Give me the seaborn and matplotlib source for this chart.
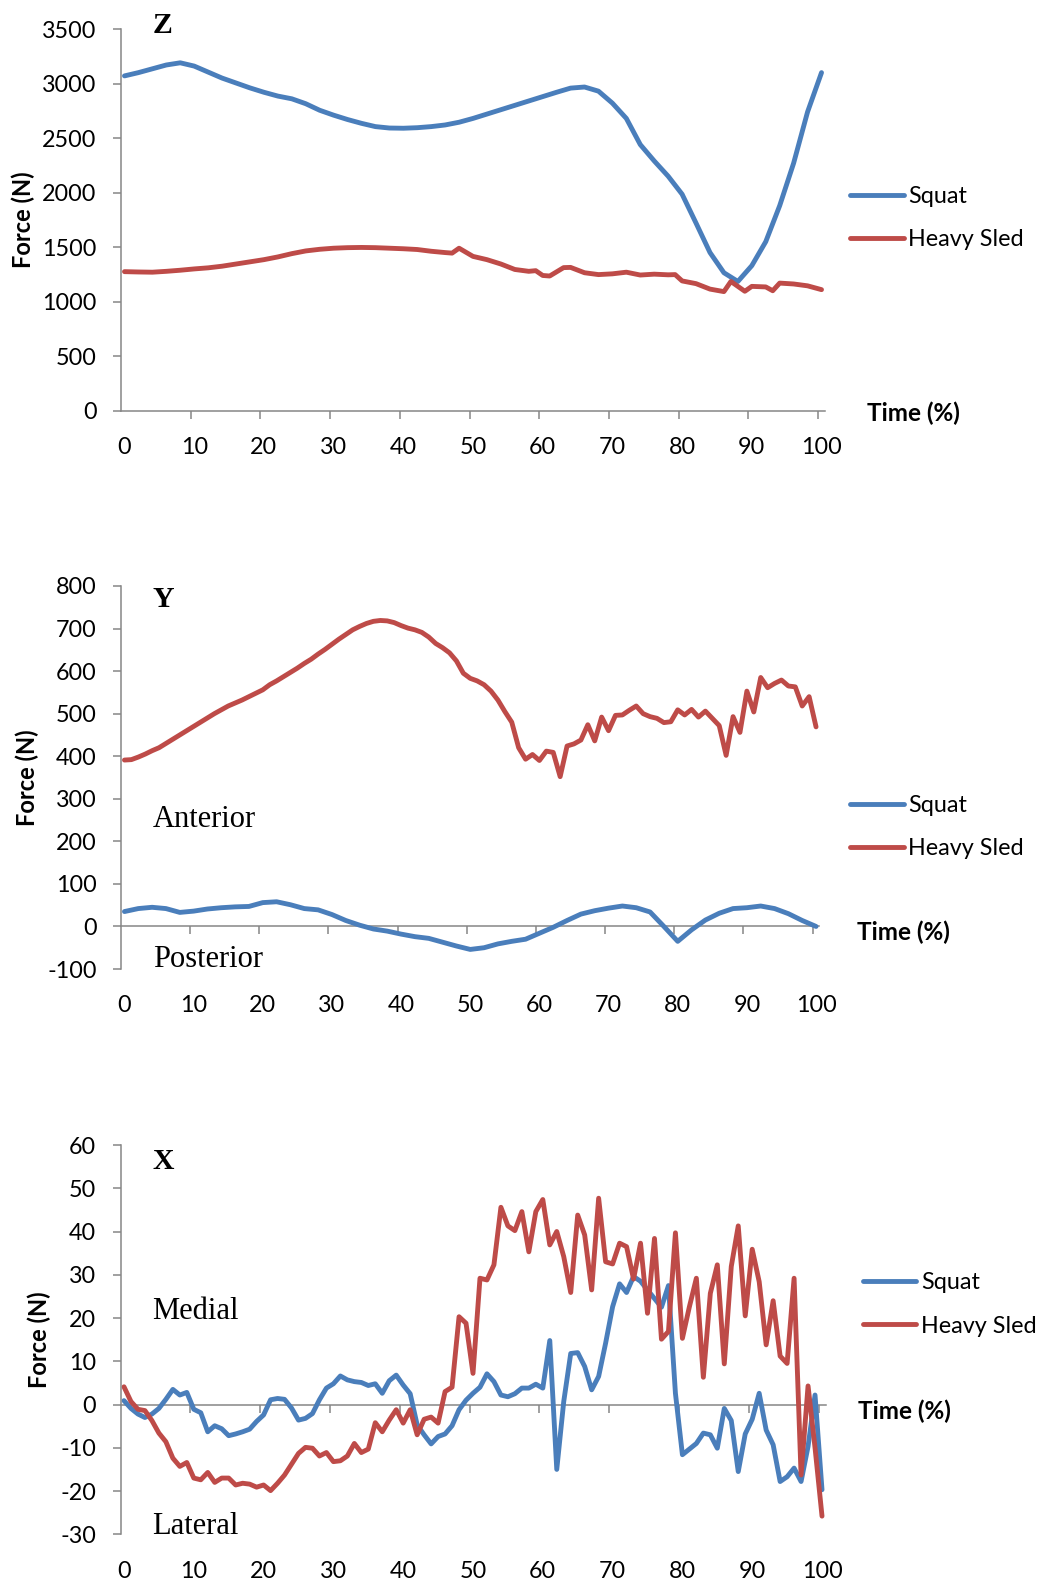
import matplotlib
matplotlib.use("Agg")
import matplotlib.pyplot as plt
from matplotlib.lines import Line2D
import pandas as pd
import seaborn as sns

# ---------------- data ----------------
exercises = ["Squat", "Heavy Sled"]

# Z (vertical)
time_z_squat = list(range(0, 101, 2))
force_z_squat = [3070, 3100, 3135, 3170, 3190, 3160, 3105, 3050, 3005, 2960,
                 2920, 2885, 2860, 2815, 2755, 2710, 2670, 2635, 2605, 2592,
                 2590, 2595, 2605, 2620, 2645, 2680, 2720, 2760, 2800, 2840,
                 2880, 2920, 2958, 2968, 2930, 2820, 2680, 2440, 2290, 2150,
                 1985, 1720, 1450, 1265, 1185, 1330, 1550, 1880, 2270, 2740,
                 3100]
time_z_sled = [0, 2, 4, 6, 8, 10, 12, 14, 16, 18, 20, 22, 24, 26, 28, 30, 32, 34,
               36, 38, 40, 42, 44, 46, 47, 48, 50, 52, 54, 56, 58, 59, 60, 61, 63,
               64, 66, 68, 70, 72, 74, 76, 78, 79, 80, 82, 84, 86, 87, 89, 90, 92,
               93, 94, 96, 98, 100]
force_z_sled = [1275, 1272, 1270, 1278, 1288, 1300, 1310, 1325, 1345, 1365,
                1385, 1410, 1440, 1465, 1480, 1490, 1495, 1497, 1495, 1490,
                1485, 1478, 1462, 1450, 1445, 1490, 1415, 1385, 1345, 1295,
                1278, 1284, 1240, 1235, 1312, 1314, 1265, 1248, 1255, 1270,
                1244, 1252, 1246, 1248, 1190, 1165, 1115, 1092, 1185, 1095,
                1140, 1135, 1100, 1170, 1162, 1145, 1110]

# Y (anterior / posterior)
time_y_squat = list(range(0, 101, 2))
force_y_squat = [35, 42, 45, 42, 33, 36, 41, 44, 46, 47,
                 56, 58, 51, 42, 39, 28, 14, 3, -6, -11,
                 -18, -24, -28, -37, -46, -54, -50, -41, -35, -30,
                 -16, -2, 14, 29, 37, 43, 48, 44, 34, 0,
                 -35, -8, 15, 31, 42, 44, 48, 42, 30, 14,
                 0]
time_y_sled = list(range(0, 101))
force_y_sled = [391, 392, 398, 405, 413, 420, 430, 440, 450, 460,
                470, 480, 490, 500, 509, 518, 525, 532, 540, 548,
                556, 568, 577, 587, 597, 607, 618, 628, 640, 651,
                663, 675, 686, 697, 705, 712, 717, 719, 718, 714,
                707, 701, 697, 691, 680,
                665, 655, 643, 624, 595, 583, 577, 568, 553, 532,
                505, 480, 420, 393, 404, 390, 412, 409, 352, 424,
                429, 438, 474, 436, 492, 460, 496, 497, 508, 518,
                500, 493, 489, 479, 481, 509, 497, 510, 492, 506,
                489, 472, 402, 493, 456, 553, 504, 585, 561, 571,
                579, 565, 563, 518, 540, 469]

# X (medial / lateral)
time_x = list(range(0, 101))
force_x_squat = [0.9, -0.9, -2.2, -3.0, -2.2, -0.9, 1.2, 3.5, 2.2, 2.8,
                 -1.1, -1.9, -6.3, -4.9, -5.6, -7.2, -6.8, -6.3, -5.7, -3.9,
                 -2.4, 1.1, 1.4, 1.2, -0.8, -3.6, -3.2, -2.1, 1.1, 3.8,
                 4.8, 6.6, 5.7, 5.3, 5.1, 4.4, 4.8, 2.6, 5.5, 6.8,
                 4.5, 2.5, -4.7, -7.0, -9.1, -7.4, -6.8, -4.9, -1.2, 1.0,
                 2.6, 4.0, 7.1, 5.3, 2.2, 1.8, 2.5, 3.8, 3.8, 4.7,
                 3.8, 14.8, -15.0, 0.7, 11.8, 12.0, 8.8, 3.4, 6.5, 14.2,
                 22.6, 27.9, 25.9, 29.6, 28.5, 26.5, 24.5, 22.5, 27.5, 2.6,
                 -11.6, -10.3, -9.0, -6.6, -7.0, -10.1, -0.9, -3.7, -15.5, -6.8,
                 -3.4, 2.6, -5.9, -9.3, -17.8, -16.7, -14.7, -17.8, -9.7, 2.2,
                 -19.7]
force_x_sled = [4.1, 0.7, -1.1, -1.4, -3.7, -6.6, -8.6, -12.4, -14.3, -13.4,
                -17.0, -17.4, -15.7, -18.0, -17.0, -17.0, -18.6, -18.2, -18.4, -19.1,
                -18.6, -19.9, -18.2, -16.3, -13.8, -11.3, -9.9, -10.1, -11.9, -11.1,
                -13.2, -13.0, -11.9, -9.0, -11.1, -10.3, -4.2, -6.3, -3.6, -1.2,
                -4.3, -1.2, -7.0, -3.4, -2.9, -4.3, 3.0, 4.0, 20.3, 18.8,
                7.2, 29.2, 28.8, 32.3, 45.6, 41.3, 40.2, 44.6, 35.3, 44.6,
                47.4, 36.9, 40.0, 34.2, 25.9, 43.8, 39.2, 26.5, 47.7, 33.0,
                32.5, 37.3, 36.5, 29.0, 37.3, 21.1, 38.4, 15.1, 16.9, 39.7,
                15.3, 22.6, 29.2, 6.3, 25.7, 32.3, 9.4, 31.9, 41.3, 20.5,
                35.9, 28.4, 13.8, 24.0, 11.2, 9.5, 29.2, -16.3, 4.3, -10.0,
                -25.8]

x_tick_values = list(range(0, 101, 10))
z_ticks = [0, 500, 1000, 1500, 2000, 2500, 3000, 3500]
y_ticks = [-100, 0, 100, 200, 300, 400, 500, 600, 700, 800]
x_ticks_force = [-30, -20, -10, 0, 10, 20, 30, 40, 50, 60]


def long_df(t_sq, f_sq, t_sl, f_sl):
    a = pd.DataFrame({"Time": t_sq, "Force": f_sq, "Exercise": "Squat"})
    b = pd.DataFrame({"Time": t_sl, "Force": f_sl, "Exercise": "Heavy Sled"})
    return pd.concat([a, b], ignore_index=True)


df_z = long_df(time_z_squat, force_z_squat, time_z_sled, force_z_sled)
df_y = long_df(time_y_squat, force_y_squat, time_y_sled, force_y_sled)
df_x = long_df(time_x, force_x_squat, time_x, force_x_sled)

# ---------------- style ----------------
sns.set_theme(style="white")
plt.rcParams["font.family"] = ["Lato", "DejaVu Sans"]
plt.rcParams["text.color"] = "black"
plt.rcParams["xtick.color"] = "black"
plt.rcParams["ytick.color"] = "black"

BLUE = "#4A7EBB"
RED = "#BE4B48"
GRAY = "#868686"
palette = {"Squat": BLUE, "Heavy Sled": RED}
LW = 3.5
TICK_FS = 16.8

W, H = 1041, 1595
fig = plt.figure(figsize=(W / 100, H / 100), dpi=100)
fig.patch.set_facecolor("white")


def add_axes(left, right, top, bottom):
    return fig.add_axes([left / W, 1 - bottom / H, (right - left) / W, (bottom - top) / H])


def panel(ax, df, ylim, yticks, letter, letter_y, legend_xy, time_xy, force_xy, notes):
    sns.lineplot(data=df, x="Time", y="Force", hue="Exercise", hue_order=exercises,
                 palette=palette, linewidth=LW, errorbar=None, legend=False, ax=ax)
    for ln in ax.lines:
        ln.set_solid_capstyle("round")
        ln.set_solid_joinstyle("round")
    ax.set_xlim(-0.5, 100.5)
    ax.set_ylim(*ylim)
    ax.set_xlabel("")
    ax.set_ylabel("")
    ax.set_yticks(yticks)
    ax.set_yticklabels([str(v) for v in yticks])
    ax.set_xticks(x_tick_values)
    ax.set_xticklabels([str(v) for v in x_tick_values])
    ax.tick_params(axis="x", bottom=False, length=0, pad=19, labelsize=TICK_FS)
    ax.tick_params(axis="y", left=True, direction="out", length=6, width=1.1,
                   color=GRAY, pad=11.5, labelsize=TICK_FS)
    for s in ["top", "right", "bottom"]:
        ax.spines[s].set_visible(False)
    ax.spines["left"].set_color(GRAY)
    ax.spines["left"].set_linewidth(1.1)
    ax.set_facecolor("none")

    zero_frac = (0 - ylim[0]) / (ylim[1] - ylim[0])
    sec = ax.secondary_xaxis(zero_frac)
    sec_ticks = [-0.5 + 10 * k for k in range(1, 11)]
    sec.set_xticks(sec_ticks, labels=[""] * len(sec_ticks))
    sec.tick_params(axis="x", bottom=True, top=False, direction="out", length=5.5,
                    width=1.1, color=GRAY, labelbottom=False, labeltop=False)
    for s in sec.spines.values():
        s.set_color(GRAY)
        s.set_linewidth(1.1)

    ax.text(4.1, letter_y, letter, fontfamily="Liberation Serif", fontweight="bold",
            fontsize=21.5, ha="left", va="baseline")
    for txt, yv in notes:
        ax.text(4.1, yv, txt, fontfamily="Liberation Serif", fontsize=22,
                ha="left", va="baseline")

    handles = [Line2D([0], [0], color=BLUE, lw=LW, solid_capstyle="round"),
               Line2D([0], [0], color=RED, lw=LW, solid_capstyle="round")]
    ax.legend(handles, exercises, loc="center left",
              bbox_to_anchor=(legend_xy[0] / W, 1 - legend_xy[1] / H),
              bbox_transform=fig.transFigure, frameon=False, fontsize=16.8,
              handlelength=2.3, handletextpad=0.2, labelspacing=0.95,
              borderpad=0, borderaxespad=0)

    fig.text(time_xy[0] / W, 1 - time_xy[1] / H, "Time (%)", ha="center", va="center",
             fontsize=17.5, fontweight="bold")
    fig.text(force_xy[0] / W, 1 - force_xy[1] / H, "Force (N)", ha="center", va="center",
             rotation=90, fontsize=17, fontweight="bold")


ax_z = add_axes(121, 825, 29, 410.7)
ax_y = add_axes(121, 819.5, 586, 969)
ax_x = add_axes(120.5, 825.5, 1145, 1534.3)

panel(ax_z, df_z, (0, 3500), z_ticks, "Z", 3463, (850, 218.4), (913, 413), (23, 220), [])
panel(ax_y, df_y, (-100, 800), y_ticks, "Y", 750.7, (850, 827.2), (903, 932), (27.5, 778),
      [("Anterior", 233.7), ("Posterior", -94.6)])
panel(ax_x, df_x, (-30, 60), x_ticks_force, "X", 54.5, (862.5, 1304.5), (904.6, 1411.7),
      (39, 1340), [("Medial", 19.8), ("Lateral", -29.9)])

fig.savefig("out.png", dpi=100, facecolor="white")
